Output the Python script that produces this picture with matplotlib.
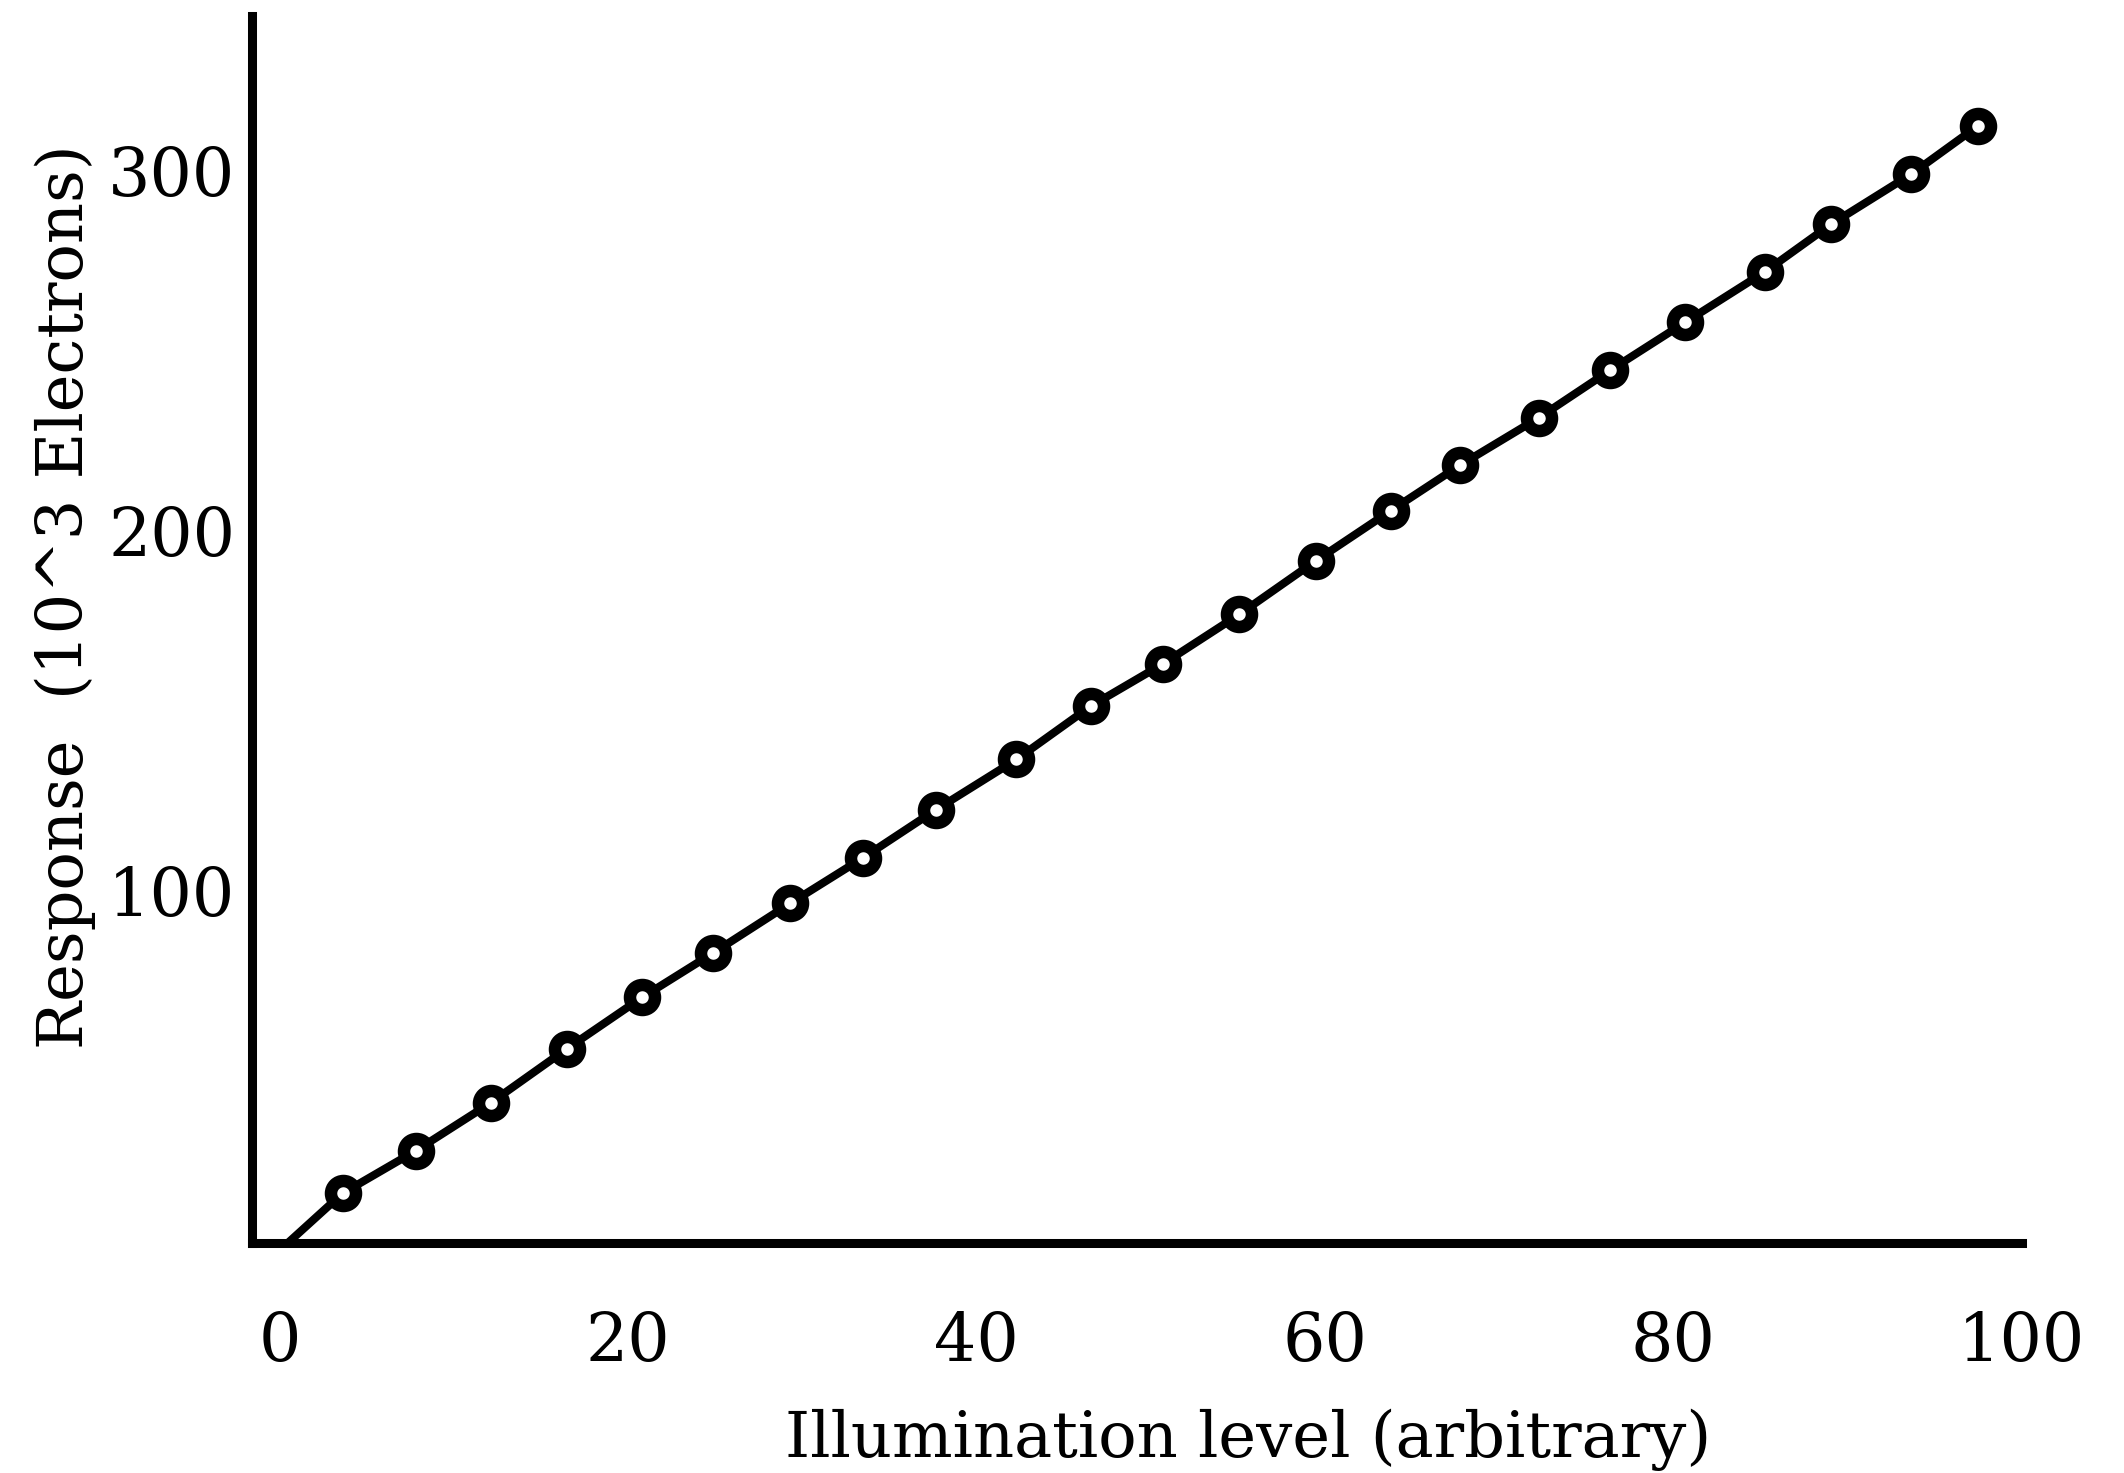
import matplotlib
matplotlib.use("Agg")
import matplotlib.pyplot as plt

# Illumination level (arbitrary) and response (10^3 electrons)
illumination = [0.0, 3.6, 7.8, 12.1, 16.5, 20.8, 24.9, 29.3, 33.5, 37.7, 42.3,
                46.6, 50.7, 55.1, 59.5, 63.8, 67.8, 72.3, 76.4, 80.7, 85.3,
                89.1, 93.7, 97.5]
response = [0.0, 15.8, 27.6, 40.9, 56.0, 70.2, 82.6, 96.3, 109.0, 122.4, 136.3,
            151.2, 162.8, 176.6, 191.5, 205.4, 218.1, 231.2, 244.4, 257.7, 271.8,
            285.0, 298.9, 312.2]

x_ticks = [0, 20, 40, 60, 80, 100]
y_ticks = [100, 200, 300]

plt.rcParams['font.family'] = ['DejaVu Serif']

fig = plt.figure(figsize=(21.24, 14.73), dpi=100)
ax = fig.add_axes([252 / 2124, (1473 - 1243) / 1473,
                   (2022 - 252) / 2124, (1243 - 16) / 1473])

# first point is the origin, drawn without a marker
ax.plot(illumination, response, color='black', lw=5.8,
        marker='o', ms=18, mew=9, mfc='white', mec='black',
        markevery=list(range(1, len(illumination))))

ax.set_xlim(-1.6, 100.05)
ax.set_ylim(2, 342.8)
ax.set_xticks(x_ticks)
ax.set_yticks(y_ticks)
ax.tick_params(length=0, labelsize=48)
ax.tick_params(axis='x', pad=48)
ax.tick_params(axis='y', pad=12)

for side in ['top', 'right']:
    ax.spines[side].set_visible(False)
for side in ['left', 'bottom']:
    ax.spines[side].set_linewidth(6.5)
    ax.spines[side].set_capstyle('projecting')

ax.set_xlabel('Illumination level (arbitrary)', fontsize=46)
ax.set_ylabel('Response  (10^3 Electrons)', fontsize=46)
ax.xaxis.set_label_coords(0.563, -0.135)
ax.yaxis.set_label_coords(-0.088, 0.527)

fig.savefig('out.png', dpi=100, facecolor='white')
